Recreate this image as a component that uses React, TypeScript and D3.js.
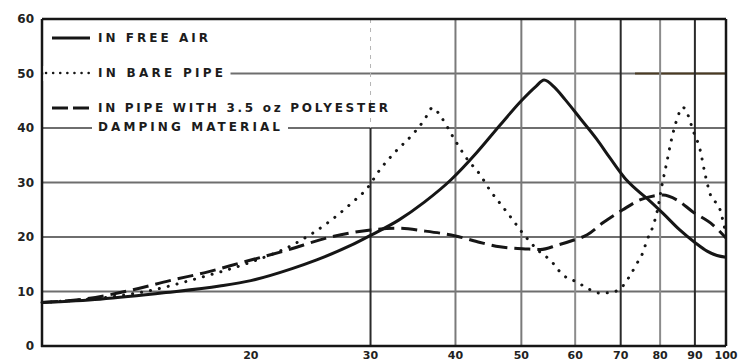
import * as d3 from "d3";

const W = 741;
const H = 362;

// frequency (Hz) / response values
const freeAirFreq = [9.86, 12, 15, 18, 20, 23, 25, 28, 30, 33, 36, 39.4, 43, 46.5, 50, 52.5, 54, 56, 58, 61, 64.5, 67.5, 71, 74, 77.3, 81, 85.5, 90, 93.8, 97, 100];
const freeAirVal = [8, 8.6, 9.8, 11, 12, 14.2, 15.8, 18.4, 20.3, 23.1, 26.4, 30.5, 35.5, 40.5, 45, 47.6, 48.8, 47.4, 45.2, 41.8, 38, 34.5, 30.8, 28.6, 26.6, 24.2, 21.3, 19, 17.4, 16.6, 16.3];

const barePipeFreq = [9.86, 12, 14, 16.8, 19.8, 23, 26.2, 28, 29.9, 30.7, 32.5, 34.7, 36, 37, 38.2, 39.7, 41.5, 43.5, 45, 46.5, 48.6, 49.8, 53.3, 55.1, 57.6, 60.4, 63.2, 65.3, 68.2, 70.5, 72.3, 74, 75.5, 76.5, 77.9, 79.3, 80.5, 81.8, 83, 84.3, 85.5, 86.4, 87.9, 89.4, 91.6, 93.1, 94.7, 98, 100];
const barePipeVal = [8, 8.8, 10, 12.5, 15.2, 18.5, 23, 26, 29.5, 31.7, 35.4, 39, 41.5, 43.7, 41.8, 38.3, 34.5, 31.4, 28.5, 26.2, 23.1, 21.3, 17.2, 15.8, 13, 11.7, 10.3, 9.7, 9.9, 11, 13, 15.2, 17.2, 19.4, 21.6, 25, 29.5, 33.6, 37.5, 40.8, 43, 43.8, 42.4, 39.6, 36, 31.7, 28, 25, 20.5];

const dampedFreq = [9.86, 11.5, 13.4, 15.2, 17.3, 19.5, 22.5, 26.2, 30, 33, 36, 40, 43.5, 46.5, 51, 53.3, 56.5, 59.6, 62.5, 65.9, 70.5, 74.7, 80.8, 84.7, 89.4, 95.7, 100];
const dampedVal = [8, 8.7, 10.3, 12, 13.6, 15.4, 17.5, 20, 21.3, 21.6, 21.1, 20.2, 19, 18.2, 17.8, 17.7, 18.5, 19.4, 20.4, 22.6, 25, 26.8, 27.7, 26.8, 24.6, 22.2, 19.8];

const xTicks = [20, 30, 40, 50, 60, 70, 80, 90, 100];
const xGrid = [30, 40, 50, 60, 70, 80, 90];
const yTicks = [0, 10, 20, 30, 40, 50, 60];
const yGrid = [10, 20, 30, 40, 50];

const legendLabels = ["IN FREE AIR", "IN BARE PIPE", "IN PIPE WITH 3.5 oz POLYESTER", "DAMPING MATERIAL"];
const legendWidths = [110, 125, 290, 182];

const x = d3.scaleLog().domain([9.86, 100]).range([42, 726]);
const y = d3.scaleLinear().domain([0, 60]).range([346, 19]);

const toPts = (f: number[], v: number[]) => f.map((d, i) => [d, v[i]] as [number, number]);

const line = d3
  .line<[number, number]>()
  .x((d) => x(d[0]))
  .y((d) => y(d[1]))
  .curve(d3.curveMonotoneX);

const ink = "#161616";
const grid = "#6e6e6e";
const font = "'DejaVu Sans', 'Liberation Sans', sans-serif";

export default function App() {
  const rowY = [38, 73, 108, 127];
  return (
    <svg
      width={W}
      height={H}
      style={{ position: "absolute", left: 0, top: 0, background: "#fff" }}
    >
      <rect x={0} y={0} width={W} height={H} fill="#fff" />

      {/* horizontal grid */}
      {yGrid.map((v) => (
        <line key={"h" + v} x1={42} x2={726} y1={y(v)} y2={y(v)} stroke={grid} strokeWidth={2} />
      ))}
      <line x1={635} x2={726} y1={y(50)} y2={y(50)} stroke="#4a3a22" strokeWidth={2} />

      {/* vertical grid */}
      {xGrid.map((f) => (
        <line
          key={"v" + f}
          x1={x(f)}
          x2={x(f)}
          y1={f === 30 ? y(40) : 19}
          y2={346}
          stroke={f === 60 || f === 80 ? "#8c8c8c" : f === 40 || f === 50 ? "#7a7a7a" : "#2a2a2a"}
          strokeWidth={2}
        />
      ))}
      <line x1={x(30)} x2={x(30)} y1={19} y2={y(40)} stroke="#b5b5b5" strokeWidth={1} strokeDasharray="4 5" />

      {/* frame */}
      <line x1={42} x2={726} y1={19} y2={19} stroke={ink} strokeWidth={2.5} />
      <line x1={726} x2={726} y1={19} y2={346} stroke={ink} strokeWidth={2.5} />
      <line x1={42} x2={42} y1={19} y2={347} stroke={ink} strokeWidth={2.5} />
      <line x1={41} x2={726} y1={346} y2={346} stroke={ink} strokeWidth={2.5} />

      {/* legend backgrounds */}
      <rect x={43.5} y={66} width={187} height={15} fill="#fff" />
      <rect x={92} y={120} width={196} height={14} fill="#fff" />

      {/* curves */}
      <path d={line(toPts(freeAirFreq, freeAirVal)) ?? ""} fill="none" stroke={ink} strokeWidth={3} />
      <path
        d={line(toPts(barePipeFreq, barePipeVal)) ?? ""}
        fill="none"
        stroke={ink}
        strokeWidth={3}
        strokeLinecap="round"
        strokeDasharray="0.1 9"
      />
      <path
        d={line(toPts(dampedFreq, dampedVal)) ?? ""}
        fill="none"
        stroke={ink}
        strokeWidth={3}
        strokeDasharray="16 7"
      />

      {/* legend */}
      <line x1={52} x2={90} y1={rowY[0]} y2={rowY[0]} stroke={ink} strokeWidth={3} />
      <line x1={46} x2={92} y1={rowY[1]} y2={rowY[1]} stroke={ink} strokeWidth={2.5} strokeLinecap="round" strokeDasharray="0.1 7" />
      <line x1={52} x2={90} y1={rowY[2]} y2={rowY[2]} stroke={ink} strokeWidth={3} strokeDasharray="16 5" />
      {legendLabels.map((t, i) => (
        <text
          key={t}
          x={98}
          y={rowY[i]}
          dy="0.36em"
          fontFamily={font}
          fontWeight="bold"
          fontSize={12}
          fill="#1c1c1c"
          textLength={legendWidths[i]}
          lengthAdjust="spacing"
        >
          {t}
        </text>
      ))}

      {/* y tick labels */}
      {yTicks.map((v) => (
        <text
          key={"yt" + v}
          x={34}
          y={y(v)}
          dy="0.36em"
          textAnchor="end"
          fontFamily={font}
          fontWeight="bold"
          fontSize={12}
          fill="#222"
        >
          {v}
        </text>
      ))}

      {/* x tick labels */}
      {xTicks.map((f) => (
        <text
          key={"xt" + f}
          x={x(f)}
          y={359}
          textAnchor="middle"
          fontFamily={font}
          fontWeight="bold"
          fontSize={11}
          fill="#222"
        >
          {f}
        </text>
      ))}
    </svg>
  );
}
